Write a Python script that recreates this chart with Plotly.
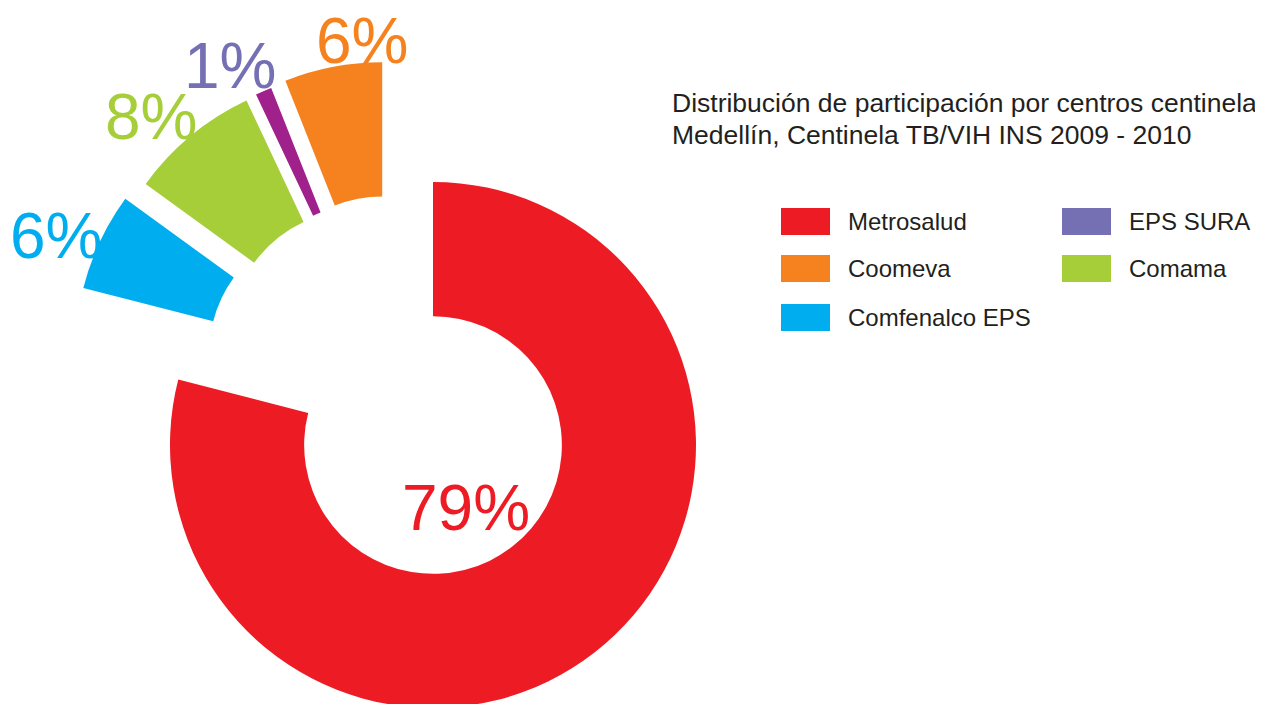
import math
import plotly.graph_objects as go

# ---------------- data ----------------
categories = ["Metrosalud", "Comfenalco EPS", "Comama", "EPS SURA", "Coomeva"]
shares = [79, 6, 8, 1, 6]
slice_colors = ["#ED1C24", "#00AEEF", "#A6CE39", "#A0218C", "#F5821F"]
label_colors = ["#ED1C24", "#00AEEF", "#A6CE39", "#7570B3", "#F5821F"]

legend_order = ["Metrosalud", "EPS SURA", "Coomeva", "Comama", "Comfenalco EPS"]
legend_colors = ["#ED1C24", "#7570B3", "#F5821F", "#A6CE39", "#00AEEF"]

title_lines = [
    "Distribución de participación por centros centinela",
    "Medellín, Centinela TB/VIH INS 2009 - 2010",
]

# ---------------- layout parameters (page pixels) ----------------
W, H = 1263, 704
OFF = 8                              # default page margin around the plot div
CX, CY, R = 433, 445, 263            # centre / outer radius of the main ring
HOLE = 0.49
EXPLODE = [0, 132, 130, 130, 130]    # how far each slice is pulled out
EXPLODE_DIR = [0, 314, 325, 330, 337]  # pull direction (deg, clockwise from top)
PCT_POS = [(466, 508), (56, 236), (151, 117), (230, 66), (363, 41)]
PCT_SIZE = 64
FONT = "Liberation Sans, Arial, sans-serif"
TEXT_COLOR = "#231F20"

TITLE_X = 670
TITLE_Y = [103.5, 134.5]
TITLE_SIZE = 26.5

LEG_COL_X = [781, 1062]
LEG_ROW_Y = [208, 255, 304]
SW_W, SW_H = 49, 27
LEG_TEXT_DX = 65
LEG_SIZE = 24


def px_x(x):
    return (x - OFF) / W


def px_y(y):
    return 1 - (y - OFF) / H


fig = go.Figure()

n = len(categories)
for i in range(n):
    a = math.radians(EXPLODE_DIR[i])
    cx = CX + EXPLODE[i] * math.sin(a)
    cy = CY - EXPLODE[i] * math.cos(a)
    cols = [slice_colors[j] if j == i else "rgba(0,0,0,0)" for j in range(n)]
    fig.add_trace(go.Pie(
        labels=categories,
        values=shares,
        sort=False,
        direction="clockwise",
        rotation=0,
        hole=HOLE,
        marker=dict(colors=cols, line=dict(width=0)),
        textinfo="none",
        showlegend=False,
        hoverinfo="label+percent",
        domain=dict(
            x=[max(0, px_x(cx - R)), min(1, px_x(cx + R))],
            y=[max(0, px_y(cy + R)), min(1, px_y(cy - R))],
        ),
    ))

annotations = []
total = sum(shares)
for i in range(n):
    x, y = PCT_POS[i]
    annotations.append(dict(
        text=f"{round(100 * shares[i] / total)}%",
        x=px_x(x), y=px_y(y), xref="paper", yref="paper",
        xanchor="center", yanchor="middle", showarrow=False,
        font=dict(family=FONT, size=PCT_SIZE, color=label_colors[i]),
    ))

# title (one annotation per line for exact line spacing)
for line, ty in zip(title_lines, TITLE_Y):
    annotations.append(dict(
        text=line,
        x=px_x(TITLE_X), y=px_y(ty), xref="paper", yref="paper",
        xanchor="left", yanchor="middle", align="left", showarrow=False,
        font=dict(family=FONT, size=TITLE_SIZE, color=TEXT_COLOR),
    ))

# legend (2 columns, row-major)
shapes = []
for k, (name, col) in enumerate(zip(legend_order, legend_colors)):
    cx0 = LEG_COL_X[k % 2]
    ry0 = LEG_ROW_Y[k // 2]
    shapes.append(dict(
        type="rect", xref="paper", yref="paper",
        x0=px_x(cx0), x1=px_x(cx0 + SW_W),
        y0=px_y(ry0 + SW_H), y1=px_y(ry0),
        fillcolor=col, line=dict(width=0),
    ))
    annotations.append(dict(
        text=name, x=px_x(cx0 + LEG_TEXT_DX), y=px_y(ry0 + SW_H / 2),
        xref="paper", yref="paper", xanchor="left", yanchor="middle",
        showarrow=False, font=dict(family=FONT, size=LEG_SIZE, color=TEXT_COLOR),
    ))

fig.update_layout(
    width=W, height=H,
    margin=dict(l=0, r=0, t=0, b=0),
    paper_bgcolor="white", plot_bgcolor="white",
    annotations=annotations, shapes=shapes,
    showlegend=False,
)

fig.write_html("out.html")
